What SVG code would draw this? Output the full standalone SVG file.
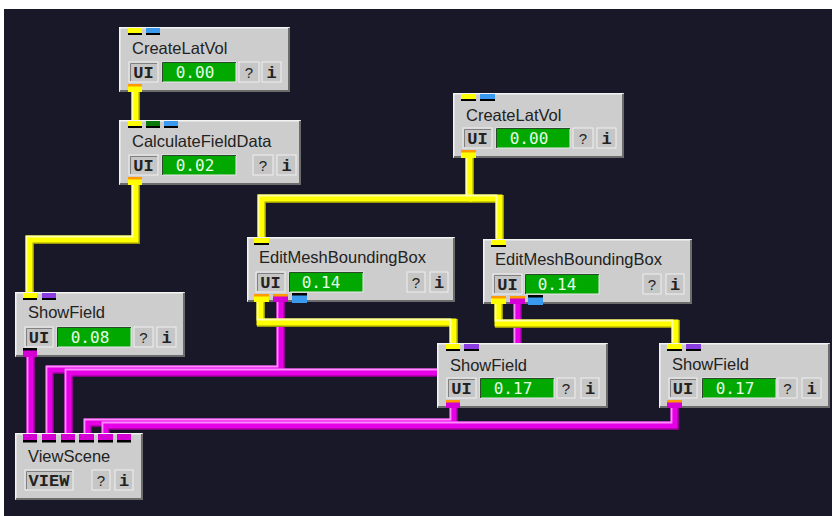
<svg xmlns="http://www.w3.org/2000/svg" width="832" height="516" viewBox="0 0 832 516">
<style>
.bg{fill:#181828}
.body{fill:#cdcdcd}
.nhl{fill:none;stroke:#f4f4f4;stroke-width:1.5}
.nsh{fill:none;stroke:#6c6c6c;stroke-width:2}
.title{font-family:"Liberation Sans",Arial,sans-serif;font-size:16.5px;fill:#222}
.btn{fill:#c6c6c6;stroke:#f0f0f0;stroke-width:1}
.bdk{fill:none;stroke:#808080;stroke-width:1}
.bt{font-family:"Liberation Mono","Courier New",monospace;font-weight:bold;font-size:17px;fill:#222;text-anchor:middle}
.bq{font-family:"Liberation Sans",Arial,sans-serif;font-size:15px;fill:#222;text-anchor:middle}
.gauge{fill:#00a800;stroke:#eaeaea;stroke-width:1}
.gdk{fill:none;stroke:#2a4a2a;stroke-width:1}
.gt{font-family:"DejaVu Sans Mono",monospace;font-size:16px;fill:#e6ffe6;text-anchor:middle}
.py{fill:#ffff00}.pb{fill:#3a9af0}.pg{fill:#0a7a0a}.pp{fill:#8a3ee0}.pm{fill:#d400d4}
.pk{fill:#000}.po{fill:#ff9a00}
.ysh{fill:none;stroke:#9a9a00;stroke-width:8;stroke-linejoin:miter}
.ymn{fill:none;stroke:#ffff00;stroke-width:7;stroke-linejoin:miter}
.yhl{fill:none;stroke:#ffffa8;stroke-width:1.8;stroke-linejoin:miter}
.msh{fill:none;stroke:#880088;stroke-width:8;stroke-linejoin:miter}
.mmn{fill:none;stroke:#e600e6;stroke-width:7;stroke-linejoin:miter}
.mhl{fill:none;stroke:#ff8cff;stroke-width:1.8;stroke-linejoin:miter}
</style>
<defs>
<path id="y1" d="M135,90 V122"/>
<path id="y2" d="M135,184 V239 H29 V294"/>
<path id="y3a" d="M469,157 V198 H261 V239"/>
<path id="y3b" d="M469,198 H499 V241"/>
<path id="y4" d="M260,300 V322 H453 V345"/>
<path id="y5" d="M498,303 V323 H675 V345"/>
<path id="m1" d="M30,355 V436"/>
<path id="m2" d="M280,300 V369 H49 V436"/>
<path id="m3" d="M517,303 V372 H68 V436"/>
<path id="m4" d="M453,406 V422 H87 V436"/>
<path id="m5" d="M674,406 V425 H105 V436"/>
</defs>
<rect x="0" y="0" width="832" height="516" fill="#ffffff"/>
<rect class="bg" x="4" y="9" width="828" height="507"/>

<g id="connectors">
<g><use href="#m1" class="msh" transform="translate(1,1)"/><use href="#m1" class="mmn"/><use href="#m1" class="mhl" transform="translate(-2.5,-2.5)"/></g>
<g><use href="#m2" class="msh" transform="translate(1,1)"/><use href="#m2" class="mmn"/><use href="#m2" class="mhl" transform="translate(-2.5,-2.5)"/></g>
<g><use href="#m3" class="msh" transform="translate(1,1)"/><use href="#m3" class="mmn"/><use href="#m3" class="mhl" transform="translate(-2.5,-2.5)"/></g>
<g><use href="#m4" class="msh" transform="translate(1,1)"/><use href="#m4" class="mmn"/><use href="#m4" class="mhl" transform="translate(-2.5,-2.5)"/></g>
<g><use href="#m5" class="msh" transform="translate(1,1)"/><use href="#m5" class="mmn"/><use href="#m5" class="mhl" transform="translate(-2.5,-2.5)"/></g>
<g><use href="#y1" class="ysh" transform="translate(1,1)"/><use href="#y1" class="ymn"/><use href="#y1" class="yhl" transform="translate(-2.5,0)"/></g>
<g><use href="#y2" class="ysh" transform="translate(1,1)"/><use href="#y2" class="ymn"/><use href="#y2" class="yhl" transform="translate(-2.5,-2.5)"/></g>
<g><use href="#y3a" class="ysh" transform="translate(1,1)"/><use href="#y3b" class="ysh" transform="translate(1,1)"/><use href="#y3a" class="ymn"/><use href="#y3b" class="ymn"/><use href="#y3a" class="yhl" transform="translate(-2.5,-2.5)"/><use href="#y3b" class="yhl" transform="translate(-2.5,-2.5)"/></g>
<g><use href="#y4" class="ysh" transform="translate(1,1)"/><use href="#y4" class="ymn"/><use href="#y4" class="yhl" transform="translate(-2.5,-2.5)"/></g>
<g><use href="#y5" class="ysh" transform="translate(1,1)"/><use href="#y5" class="ymn"/><use href="#y5" class="yhl" transform="translate(-2.5,-2.5)"/></g>
</g>

<!-- N1 CreateLatVol -->
<g id="createlatvol1" transform="translate(119,27)">
<rect class="body" x="0" y="0" width="171" height="65"/>
<path class="nhl" d="M0.75,64 V0.75 H170"/><path class="nsh" d="M1,64 H170 V1"/>
<rect class="py" x="9" y="1" width="14" height="5"/><rect class="pk" x="9" y="6" width="14" height="2"/>
<rect class="pb" x="27" y="1" width="14" height="5"/><rect class="pk" x="27" y="6" width="14" height="2"/>
<text class="title" x="13" y="27">CreateLatVol</text>
<rect class="btn" x="10" y="35" width="29" height="20"/><path class="bdk" d="M11.5,54 V36.5 H38"/><text class="bt" x="24.5" y="51">UI</text>
<rect class="gauge" x="43" y="35" width="74" height="20"/><path class="gdk" d="M43.5,55 V35.5 H117"/><text class="gt" x="76" y="51">0.00</text>
<rect class="btn" x="120" y="35" width="20" height="20"/><text class="bq" x="130" y="51">?</text>
<rect class="btn" x="143" y="35" width="19" height="20"/><text class="bt" x="152.5" y="51">i</text>
<rect class="py" x="9" y="57" width="14" height="8"/><rect class="po" x="9" y="57" width="14" height="2.5"/>
</g>

<!-- N2 CalculateFieldData -->
<g id="calculatefielddata" transform="translate(119,120)">
<rect class="body" x="0" y="0" width="182" height="65"/>
<path class="nhl" d="M0.75,64 V0.75 H181"/><path class="nsh" d="M1,64 H181 V1"/>
<rect class="py" x="9" y="1" width="14" height="5"/><rect class="pk" x="9" y="6" width="14" height="2"/>
<rect class="pg" x="27" y="1" width="14" height="5"/><rect class="pk" x="27" y="6" width="14" height="2"/>
<rect class="pb" x="45" y="1" width="14" height="5"/><rect class="pk" x="45" y="6" width="14" height="2"/>
<text class="title" x="13" y="27">CalculateFieldData</text>
<rect class="btn" x="10" y="35" width="29" height="20"/><path class="bdk" d="M11.5,54 V36.5 H38"/><text class="bt" x="24.5" y="51">UI</text>
<rect class="gauge" x="43" y="35" width="74" height="20"/><path class="gdk" d="M43.5,55 V35.5 H117"/><text class="gt" x="76" y="51">0.02</text>
<rect class="btn" x="134" y="35" width="20" height="20"/><text class="bq" x="144" y="51">?</text>
<rect class="btn" x="158" y="35" width="19" height="20"/><text class="bt" x="167.5" y="51">i</text>
<rect class="py" x="9" y="57" width="14" height="8"/><rect class="po" x="9" y="57" width="14" height="2.5"/>
</g>

<!-- N3 CreateLatVol -->
<g id="createlatvol2" transform="translate(453,93)">
<rect class="body" x="0" y="0" width="171" height="65"/>
<path class="nhl" d="M0.75,64 V0.75 H170"/><path class="nsh" d="M1,64 H170 V1"/>
<rect class="py" x="8" y="1" width="15" height="5"/><rect class="pk" x="8" y="6" width="15" height="2"/>
<rect class="pb" x="27" y="1" width="15" height="5"/><rect class="pk" x="27" y="6" width="15" height="2"/>
<text class="title" x="13" y="28">CreateLatVol</text>
<rect class="btn" x="10" y="35" width="29" height="20"/><path class="bdk" d="M11.5,54 V36.5 H38"/><text class="bt" x="24.5" y="51">UI</text>
<rect class="gauge" x="43" y="35" width="74" height="20"/><path class="gdk" d="M43.5,55 V35.5 H117"/><text class="gt" x="76" y="51">0.00</text>
<rect class="btn" x="120" y="35" width="20" height="20"/><text class="bq" x="130" y="51">?</text>
<rect class="btn" x="144" y="35" width="19" height="20"/><text class="bt" x="153.5" y="51">i</text>
<rect class="py" x="8" y="57" width="15" height="8"/><rect class="po" x="8" y="57" width="15" height="2.5"/>
</g>

<!-- N4 EditMeshBoundingBox -->
<g id="editmeshboundingbox1" transform="translate(247,237)">
<rect class="body" x="0" y="0" width="208" height="65"/>
<path class="nhl" d="M0.75,64 V0.75 H207"/><path class="nsh" d="M1,64 H207 V1"/>
<rect class="py" x="7" y="1" width="15" height="5"/><rect class="pk" x="7" y="6" width="15" height="2"/>
<text class="title" x="12" y="26">EditMeshBoundingBox</text>
<rect class="btn" x="9" y="35" width="29" height="20"/><path class="bdk" d="M10.5,54 V36.5 H37"/><text class="bt" x="23.5" y="51">UI</text>
<rect class="gauge" x="42" y="35" width="74" height="20"/><path class="gdk" d="M42.5,55 V35.5 H116"/><text class="gt" x="74" y="51">0.14</text>
<rect class="btn" x="160" y="35" width="18" height="20"/><text class="bq" x="169" y="51">?</text>
<rect class="btn" x="183" y="35" width="18" height="20"/><text class="bt" x="192" y="51">i</text>
<rect class="py" x="7" y="57" width="15" height="8"/><rect class="po" x="7" y="57" width="15" height="2.5"/>
<rect class="pm" x="26" y="57" width="15" height="8"/><rect class="po" x="26" y="57" width="15" height="2.5"/>
<rect class="pb" x="45" y="56" width="15" height="10"/><rect class="pk" x="45" y="56" width="15" height="2.5"/>
</g>

<!-- N5 EditMeshBoundingBox -->
<g id="editmeshboundingbox2" transform="translate(483,239)">
<rect class="body" x="0" y="0" width="209" height="65"/>
<path class="nhl" d="M0.75,64 V0.75 H208"/><path class="nsh" d="M1,64 H208 V1"/>
<rect class="py" x="8" y="1" width="15" height="5"/><rect class="pk" x="8" y="6" width="15" height="2"/>
<text class="title" x="12" y="26">EditMeshBoundingBox</text>
<rect class="btn" x="10" y="35" width="29" height="20"/><path class="bdk" d="M11.5,54 V36.5 H38"/><text class="bt" x="24.5" y="51">UI</text>
<rect class="gauge" x="42" y="35" width="74" height="20"/><path class="gdk" d="M42.5,55 V35.5 H116"/><text class="gt" x="74" y="51">0.14</text>
<rect class="btn" x="160" y="35" width="18" height="20"/><text class="bq" x="169" y="51">?</text>
<rect class="btn" x="183" y="35" width="18" height="20"/><text class="bt" x="192" y="51">i</text>
<rect class="py" x="8" y="57" width="15" height="8"/><rect class="po" x="8" y="57" width="15" height="2.5"/>
<rect class="pm" x="27" y="57" width="15" height="8"/><rect class="po" x="27" y="57" width="15" height="2.5"/>
<rect class="pb" x="45" y="56" width="15" height="10"/><rect class="pk" x="45" y="56" width="15" height="2.5"/>
</g>

<!-- N6 ShowField -->
<g id="showfield1" transform="translate(15,292)">
<rect class="body" x="0" y="0" width="170" height="65"/>
<path class="nhl" d="M0.75,64 V0.75 H169"/><path class="nsh" d="M1,64 H169 V1"/>
<rect class="py" x="8" y="1" width="14" height="5"/><rect class="pk" x="8" y="6" width="14" height="2"/>
<rect class="pp" x="27" y="1" width="14" height="5"/><rect class="pk" x="27" y="6" width="14" height="2"/>
<text class="title" x="13" y="26">ShowField</text>
<rect class="btn" x="10" y="35" width="28" height="20"/><path class="bdk" d="M11.5,54 V36.5 H37"/><text class="bt" x="24" y="51">UI</text>
<rect class="gauge" x="42" y="35" width="74" height="20"/><path class="gdk" d="M42.5,55 V35.5 H116"/><text class="gt" x="75" y="51">0.08</text>
<rect class="btn" x="119" y="35" width="19" height="20"/><text class="bq" x="128.5" y="51">?</text>
<rect class="btn" x="142" y="35" width="19" height="20"/><text class="bt" x="151.5" y="51">i</text>
<rect class="pm" x="8" y="56" width="14" height="9"/><rect class="pk" x="8" y="56" width="14" height="2.5"/>
</g>

<!-- N7 ViewScene -->
<g id="viewscene" transform="translate(15,433)">
<rect class="body" x="0" y="0" width="128" height="67"/>
<path class="nhl" d="M0.75,66 V0.75 H127"/><path class="nsh" d="M1,66 H127 V1"/>
<rect class="pm" x="8" y="1" width="14" height="6"/><rect class="pk" x="8" y="7" width="14" height="2.5"/>
<rect class="pm" x="27" y="1" width="14" height="6"/><rect class="pk" x="27" y="7" width="14" height="2.5"/>
<rect class="pm" x="46" y="1" width="14" height="6"/><rect class="pk" x="46" y="7" width="14" height="2.5"/>
<rect class="pm" x="64" y="1" width="15" height="6"/><rect class="pk" x="64" y="7" width="15" height="2.5"/>
<rect class="pm" x="83" y="1" width="15" height="6"/><rect class="pk" x="83" y="7" width="15" height="2.5"/>
<rect class="pm" x="102" y="1" width="14" height="6"/><rect class="pk" x="102" y="7" width="14" height="2.5"/>
<text class="title" x="13" y="29">ViewScene</text>
<rect class="btn" x="10" y="37" width="48" height="20"/><path class="bdk" d="M11.5,56 V38.5 H57"/><text class="bt" x="34" y="53">VIEW</text>
<rect class="btn" x="77" y="37" width="18" height="20"/><text class="bq" x="86" y="53">?</text>
<rect class="btn" x="100" y="37" width="18" height="20"/><text class="bt" x="109" y="53">i</text>
</g>

<!-- N8 ShowField -->
<g id="showfield2" transform="translate(437,343)">
<rect class="body" x="0" y="0" width="171" height="65"/>
<path class="nhl" d="M0.75,64 V0.75 H170"/><path class="nsh" d="M1,64 H170 V1"/>
<rect class="py" x="9" y="1" width="14" height="5"/><rect class="pk" x="9" y="6" width="14" height="2"/>
<rect class="pp" x="27" y="1" width="15" height="5"/><rect class="pk" x="27" y="6" width="15" height="2"/>
<text class="title" x="13" y="28">ShowField</text>
<rect class="btn" x="10" y="35" width="29" height="20"/><path class="bdk" d="M11.5,54 V36.5 H38"/><text class="bt" x="24.5" y="51">UI</text>
<rect class="gauge" x="43" y="35" width="74" height="20"/><path class="gdk" d="M43.5,55 V35.5 H117"/><text class="gt" x="76" y="51">0.17</text>
<rect class="btn" x="120" y="35" width="18" height="20"/><text class="bq" x="129" y="51">?</text>
<rect class="btn" x="144" y="35" width="18" height="20"/><text class="bt" x="153" y="51">i</text>
<rect class="pm" x="9" y="57" width="14" height="8"/><rect class="po" x="9" y="57" width="14" height="2.5"/>
</g>

<!-- N9 ShowField -->
<g id="showfield3" transform="translate(659,343)">
<rect class="body" x="0" y="0" width="171" height="65"/>
<path class="nhl" d="M0.75,64 V0.75 H170"/><path class="nsh" d="M1,64 H170 V1"/>
<rect class="py" x="8" y="1" width="15" height="5"/><rect class="pk" x="8" y="6" width="15" height="2"/>
<rect class="pp" x="27" y="1" width="15" height="5"/><rect class="pk" x="27" y="6" width="15" height="2"/>
<text class="title" x="13" y="27">ShowField</text>
<rect class="btn" x="10" y="35" width="28" height="20"/><path class="bdk" d="M11.5,54 V36.5 H37"/><text class="bt" x="24" y="51">UI</text>
<rect class="gauge" x="43" y="35" width="74" height="20"/><path class="gdk" d="M43.5,55 V35.5 H117"/><text class="gt" x="76" y="51">0.17</text>
<rect class="btn" x="119" y="35" width="19" height="20"/><text class="bq" x="128.5" y="51">?</text>
<rect class="btn" x="143" y="35" width="19" height="20"/><text class="bt" x="152.5" y="51">i</text>
<rect class="pm" x="8" y="57" width="15" height="8"/><rect class="po" x="8" y="57" width="15" height="2.5"/>
</g>
</svg>
